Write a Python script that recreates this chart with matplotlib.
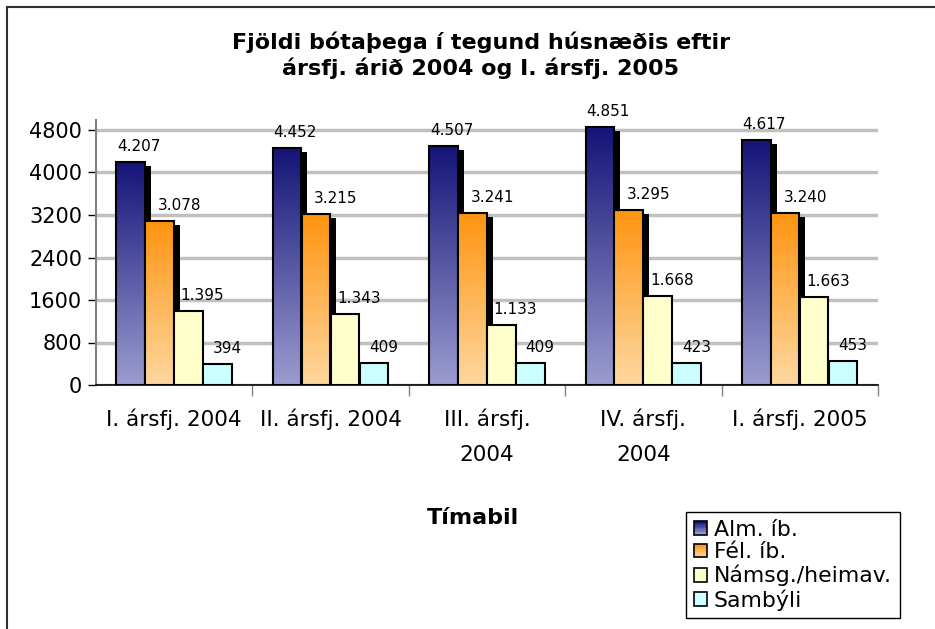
import numpy as np
import matplotlib
matplotlib.use('Agg')
import matplotlib.pyplot as plt
from matplotlib.patches import Rectangle, Patch
from matplotlib.colors import LinearSegmentedColormap, to_rgb
from matplotlib.legend_handler import HandlerBase
from matplotlib.lines import Line2D

categories = ["I. ársfj. 2004", "II. ársfj. 2004", "III. ársfj.\n2004",
              "IV. ársfj.\n2004", "I. ársfj. 2005"]
series_names = ["Alm. íb.", "Fél. íb.", "Námsg./heimav.", "Sambýli"]
alm = [4207, 4452, 4507, 4851, 4617]
fel = [3078, 3215, 3241, 3295, 3240]
nams = [1395, 1343, 1133, 1668, 1663]
samb = [394, 409, 409, 423, 453]
yticks = [0, 800, 1600, 2400, 3200, 4000, 4800]

title = "Fjöldi bótaþega í tegund húsnæðis eftir\nársfj. árið 2004 og I. ársfj. 2005"
xlabel = "Tímabil"

series = [alm, fel, nams, samb]
grads = [("#141478", "#9c9cd0"), ("#ff9410", "#fdd8a0"),
         ("#ffffcc", "#ffffcc"), ("#ccffff", "#ccffff")]
has_shadow = [True, True, False, False]
label_dx = [8, 20, 14, 10]  # pixels

plt.rcParams['font.family'] = ['DejaVu Sans']

W, H = 935, 629
fig = plt.figure(figsize=(W / 100, H / 100), dpi=100)
ax = fig.add_axes([96 / W, (H - 385) / H, 782 / W, (385 - 120) / H])
ymax = 4800 * 265 / 255
ax.set_xlim(-0.5, 4.5)
ax.set_ylim(0, ymax)

w = 0.183
step = 0.185
start = -0.37
px_x = 1 / 156.4
px_y = ymax / 265
gradarr = np.linspace(0, 1, 256).reshape(-1, 1)

for j, vals in enumerate(series):
    cmap = LinearSegmentedColormap.from_list(f"g{j}", [grads[j][1], grads[j][0]])
    for i, v in enumerate(vals):
        x0 = i + start + j * step
        z = 3 + j * 0.1
        if has_shadow[j]:
            ax.add_patch(Rectangle((x0 + 6 * px_x, 0), w, v - 4 * px_y,
                                   facecolor='black', edgecolor='none', zorder=z))
        ax.imshow(gradarr, extent=[x0, x0 + w, 0, v], aspect='auto',
                  origin='lower', cmap=cmap, vmin=0, vmax=1, zorder=z + 0.02,
                  interpolation='bilinear')
        ax.add_patch(Rectangle((x0, 0), w, v, fill=False, edgecolor='black',
                               lw=1.5, zorder=z + 0.03))
        ax.annotate(f"{v:,}".replace(',', '.'), (x0 + w / 2, v),
                    xytext=(label_dx[j], 8), textcoords='offset pixels',
                    ha='center', va='bottom', fontsize=11, zorder=10)

ax.set_xlim(-0.5, 4.5)
ax.set_ylim(0, ymax)

ax.set_yticks(yticks)
ax.set_yticklabels([str(t) for t in yticks], fontsize=15)
ax.yaxis.grid(True, color='#c0c0c0', lw=2.5)
ax.set_axisbelow(True)
ax.tick_params(axis='y', length=6, width=1, color='black', pad=4)

ax.set_xticks(range(len(categories)))
ax.set_xticklabels(categories, fontsize=15.5, linespacing=1.95)
ax.tick_params(axis='x', which='major', length=0, pad=17)
ax.set_xticks([k + 0.5 for k in range(len(categories))], minor=True)
ax.tick_params(axis='x', which='minor', length=8, width=1, color='#808080')

ax.spines['top'].set_visible(False)
ax.spines['right'].set_visible(False)
ax.spines['left'].set_color('#808080')
ax.spines['left'].set_linewidth(1.5)
ax.spines['bottom'].set_color('black')
ax.spines['bottom'].set_linewidth(1.2)

fig.text(481 / W, 1 - 55 / H, title, ha='center', va='center', fontsize=16,
         fontweight='bold', linespacing=1.25)
fig.text(473 / W, 1 - 518 / H, xlabel, ha='center', va='center', fontsize=16,
         fontweight='bold')


class GradHandler(HandlerBase):
    def __init__(self, c_top, c_bot):
        super().__init__()
        self.ct = np.array(to_rgb(c_top))
        self.cb = np.array(to_rgb(c_bot))

    def create_artists(self, legend, orig_handle, xdescent, ydescent, width,
                       height, fontsize, trans):
        s = min(width, height)
        x0 = -xdescent + (width - s) / 2
        y0 = -ydescent + (height - s) / 2
        arts = []
        n = 10
        for k in range(n):
            f = k / (n - 1)
            c = self.cb * (1 - f) + self.ct * f
            arts.append(Rectangle((x0, y0 + s * k / n), s, s / n, facecolor=c,
                                  edgecolor='none', transform=trans))
        arts.append(Rectangle((x0, y0), s, s, fill=False, edgecolor='black',
                              lw=1.2, transform=trans))
        return arts


handles = [Patch(label=n) for n in series_names]
hmap = {h: GradHandler(g[0], g[1]) for h, g in zip(handles, grads)}
leg = fig.legend(handles=handles, labels=series_names, loc='upper left',
                 bbox_to_anchor=(686 / W, 1 - 512 / H), fontsize=15.8,
                 handler_map=hmap, frameon=True, fancybox=False,
                 edgecolor='black', framealpha=1, borderpad=0.35,
                 labelspacing=0.12, handlelength=0.62, handleheight=0.62,
                 handletextpad=0.3, borderaxespad=0)
leg.get_frame().set_linewidth(1.0)

fig.add_artist(Line2D([7 / W, 7 / W], [0, 1 - 7 / H], transform=fig.transFigure,
                      color='#303030', lw=1.5))
fig.add_artist(Line2D([7 / W, 1], [1 - 7 / H, 1 - 7 / H], transform=fig.transFigure,
                      color='#303030', lw=1.5))

fig.savefig('out.png', dpi=100)
